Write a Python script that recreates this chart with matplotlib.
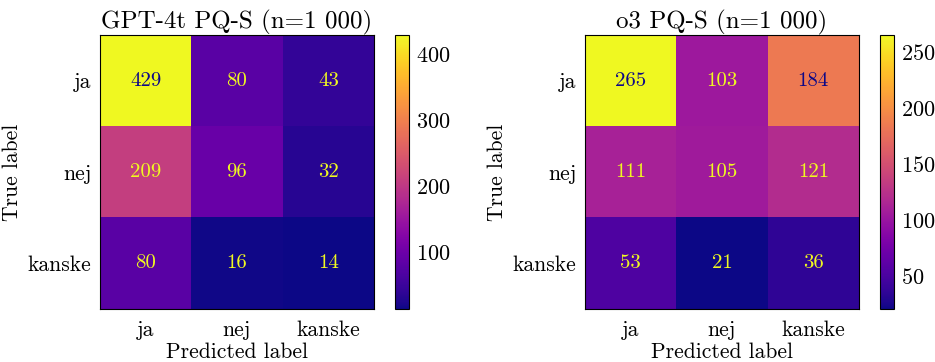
import numpy as np
import matplotlib
matplotlib.use("Agg")
import matplotlib.pyplot as plt

labels = ["ja", "nej", "kanske"]
titles = ["GPT-4t PQ-S (n=1 000)", "o3 PQ-S (n=1 000)"]
cm_gpt4t = [[429, 80, 43],
            [209, 96, 32],
            [80, 16, 14]]
cm_o3 = [[265, 103, 184],
         [111, 105, 121],
         [53, 21, 36]]
cbar_ticks = [[100, 200, 300, 400], [50, 100, 150, 200, 250]]

plt.rcParams['font.family'] = ['cmr10', 'DejaVu Serif']
plt.rcParams['axes.formatter.use_mathtext'] = True

fig = plt.figure(figsize=(9.35, 3.62), dpi=100)
W, H = 935, 362
axes_px = [(100, 35, 274, 274), (585, 35, 274, 274)]
cbar_px = [(395, 35, 14, 274), (880, 35, 14, 274)]
cmap = plt.get_cmap('plasma')

for i, cm in enumerate([cm_gpt4t, cm_o3]):
    cm = np.array(cm)
    x, y, w, h = axes_px[i]
    ax = fig.add_axes([x / W, 1 - (y + h) / H, w / W, h / H])
    im = ax.imshow(cm, cmap=cmap, interpolation='nearest', aspect='auto')
    vmin, vmax = cm.min(), cm.max()
    thresh = (vmin + vmax) / 2
    for r in range(3):
        for c in range(3):
            col = cmap(0) if cm[r, c] > thresh else cmap(1.0)
            ax.text(c, r, str(cm[r, c]), ha='center', va='center', color=col, fontsize=15)
    ax.set_xticks(range(3))
    ax.set_yticks(range(3))
    ax.set_xticklabels(labels, fontsize=15.5)
    ax.set_yticklabels(labels, fontsize=15.5)
    ax.tick_params(axis='y', length=0, pad=6)
    ax.tick_params(axis='x', length=0, pad=8)
    ax.set_xlabel("Predicted label", fontsize=15.5, labelpad=2)
    ax.set_ylabel("True label", fontsize=15.5, labelpad=4)
    ax.set_title(titles[i], fontsize=18, pad=4)
    for s in ax.spines.values():
        s.set_linewidth(0.8)
    cx, cy, cw, ch = cbar_px[i]
    cax = fig.add_axes([cx / W, 1 - (cy + ch) / H, cw / W, ch / H])
    cb = fig.colorbar(im, cax=cax)
    cb.set_ticks(cbar_ticks[i])
    cax.tick_params(length=0, labelsize=16, pad=5)
    cb.outline.set_linewidth(0.8)

fig.savefig("out.png", dpi=100)
